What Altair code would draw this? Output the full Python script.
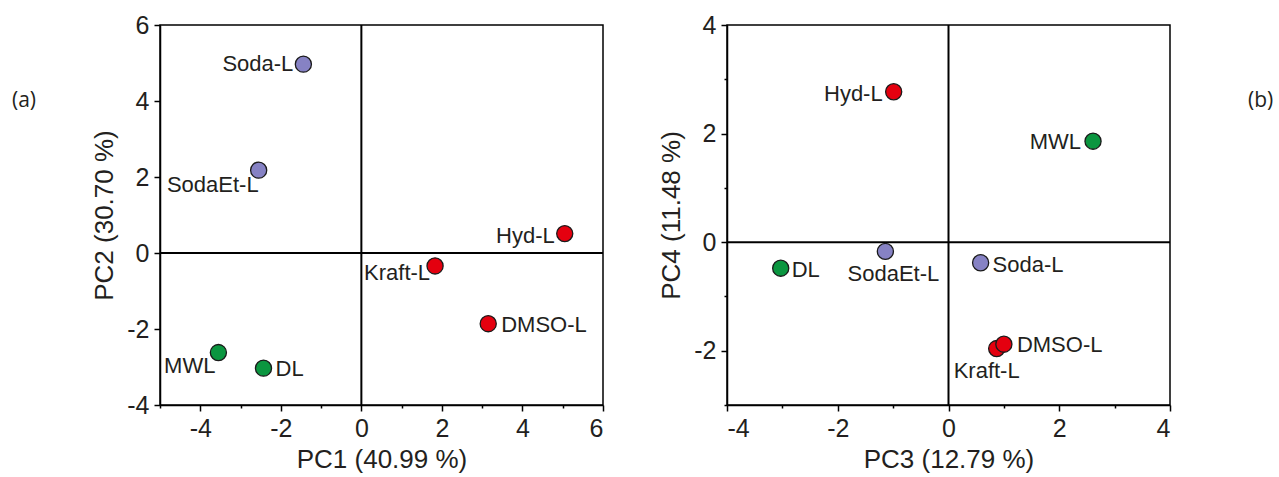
import altair as alt
import pandas as pd

# ---- data ----
names = ["Soda-L", "SodaEt-L", "Hyd-L", "Kraft-L", "DMSO-L", "MWL", "DL"]
groups = ["soda", "soda", "red", "red", "red", "green", "green"]
pc1 = [-1.44, -2.55, 5.05, 1.83, 3.15, -3.55, -2.43]
pc2 = [4.97, 2.18, 0.51, -0.34, -1.86, -2.62, -3.03]
pc3 = [0.58, -1.14, -0.99, 0.87, 1.00, 2.61, -3.03]
pc4 = [-0.38, -0.17, 2.77, -1.96, -1.88, 1.86, -0.48]

group_domain = ["soda", "red", "green"]
group_colors = ["#8682c4", "#e4000f", "#0b9640"]

df = pd.DataFrame({"name": names, "group": groups,
                   "pc1": pc1, "pc2": pc2, "pc3": pc3, "pc4": pc4})
zero_df = pd.DataFrame({"z": [0]})

FONT = "Liberation Sans, Arial, Helvetica, sans-serif"
TXT = "#231f20"

# label placement (align, dx, dy) -- styling only
place_a = {
    "Soda-L": ("right", -10, 0),
    "SodaEt-L": ("right", 0, 15),
    "Hyd-L": ("right", -10, 2),
    "Kraft-L": ("right", -5, 7),
    "DMSO-L": ("left", 13, 1),
    "MWL": ("right", -3, 13),
    "DL": ("left", 12, 1),
}
place_b = {
    "Soda-L": ("left", 12, 2),
    "SodaEt-L": ("center", 8, 23),
    "Hyd-L": ("right", -11, 2),
    "Kraft-L": ("center", -10, 22),
    "DMSO-L": ("left", 13, 1),
    "MWL": ("right", -12, 1),
    "DL": ("left", 11, 2),
}


def make_axis(title, lo, hi, orient):
    return alt.Axis(
        title=title,
        values=list(range(lo, hi + 1)),
        labelExpr="(datum.value % 2 === 0) ? ('' + datum.value) : ''",
        tickSize={"expr": "(datum.value % 2 === 0) ? 6 : 3"},
        orient=orient,
    )


def panel(xf, yf, xtitle, ytitle, xdom, ydom, place, tag, tag_x):
    xenc = alt.X(f"{xf}:Q", scale=alt.Scale(domain=xdom, nice=False, zero=False),
                 axis=make_axis(xtitle, xdom[0], xdom[1], "bottom"))
    yenc = alt.Y(f"{yf}:Q", scale=alt.Scale(domain=ydom, nice=False, zero=False),
                 axis=make_axis(ytitle, ydom[0], ydom[1], "left"))
    base = alt.Chart(df)
    vline = alt.Chart(zero_df).mark_rule(color="black", strokeWidth=2).encode(x=alt.datum(0))
    hline = alt.Chart(zero_df).mark_rule(color="black", strokeWidth=2).encode(y=alt.datum(0))
    pts = base.mark_point(filled=True, shape="circle", size=260, stroke="#1a1a1a",
                          strokeWidth=1.3, opacity=1).encode(
        x=xenc, y=yenc,
        color=alt.Color("group:N", scale=alt.Scale(domain=group_domain, range=group_colors),
                        legend=None),
    )
    layers = [vline, hline, pts]
    for nm, (al, dx, dy) in place.items():
        layers.append(
            base.transform_filter(alt.datum.name == nm)
            .mark_text(align=al, dx=dx, dy=dy, baseline="middle", font=FONT,
                       fontSize=22, color=TXT)
            .encode(x=xenc, y=yenc, text="name:N")
        )
    tag_layer = alt.Chart(pd.DataFrame({"t": [tag]})).mark_text(
        align="left", baseline="middle", font="Open Sans", fontSize=21, color=TXT
    ).encode(x=alt.value(tag_x), y=alt.value(76), text="t:N")
    layers.append(tag_layer)
    return alt.layer(*layers).properties(width=443, height=380)


left = panel("pc1", "pc2", "PC1 (40.99 %)", "PC2 (30.70 %)", [-5, 6], [-4, 6],
             place_a, "(a)", -148)
right = panel("pc3", "pc4", "PC3 (12.79 %)", "PC4 (11.48 %)", [-4, 4], [-3, 4],
              place_b, "(b)", 521)

chart = (
    alt.hconcat(left, right, spacing=124, bounds="flush")
    .properties(padding={"left": 11, "top": 12, "right": 0, "bottom": 0},
                background="white")
    .configure_view(stroke="black", strokeWidth=1.5)
    .configure_axis(
        grid=False,
        domainColor="black", domainWidth=1.5,
        tickColor="black", tickWidth=1.5,
        labelFont=FONT, labelFontSize=25, labelColor=TXT, labelPadding=5,
        titleFont=FONT, titleFontSize=26, titleFontWeight="normal", titleColor=TXT,
        titlePadding=5,
    )
    .configure_axisLeft(titlePadding=9)
)

chart.save("out.html", embed_options={"renderer": "svg", "actions": False})
